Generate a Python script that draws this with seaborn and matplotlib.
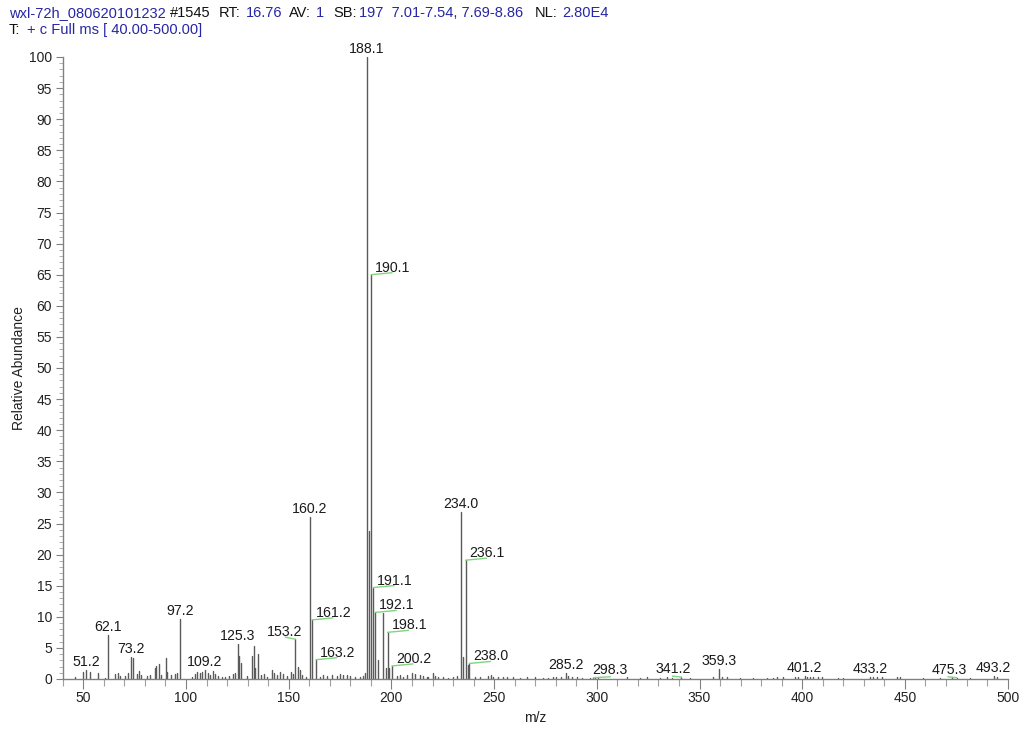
import numpy as np
import pandas as pd
import matplotlib
matplotlib.use("Agg")
import matplotlib.pyplot as plt
from matplotlib.ticker import MultipleLocator
import seaborn as sns

# ==========================
# Spectrum data (m/z, relative abundance)
# ==========================

peak_mz = [45.9, 50.0, 51.2, 53.2, 57.3, 60.5, 62.1, 65.5, 66.7, 68.0,
           70.3, 71.6, 73.2, 74.2, 75.9, 77.0, 78.2, 80.9, 82.4, 84.8,
           85.6, 86.8, 88.0, 90.2, 90.9, 92.5, 94.7, 95.8, 97.2,
           102.8, 104.4, 105.5, 106.8, 107.9, 109.2, 110.5, 111.7, 113.0, 114.2,
           115.8, 117.4, 119.0, 121.1, 122.7, 124.0, 125.3, 125.9, 126.7, 129.5,
           132.0, 133.0, 133.6, 134.8, 136.3, 137.9, 139.5, 141.7, 142.8, 144.1,
           145.8, 147.4, 149.0, 150.9, 152.1, 153.2, 154.7, 155.5, 156.6, 158.2,
           160.2, 161.2, 163.2, 165.2, 166.8, 168.5, 170.9, 173.3, 175.0, 176.6,
           178.2, 179.8, 182.3, 184.7, 186.0, 187.0, 188.1, 189.0, 190.1, 191.1,
           192.1, 193.3, 196.0, 197.2, 198.1, 199.0, 200.2, 202.6, 204.2, 205.8,
           207.4, 209.9, 211.5, 213.9, 215.5, 217.2, 218.0, 220.1, 221.2, 222.8,
           225.3, 227.7, 230.1, 232.1, 234.0, 235.0, 236.1, 237.1, 238.0, 240.7,
           243.1, 247.2, 248.3, 249.6, 252.0, 254.5, 256.1, 259.3, 262.6, 265.8,
           269.9, 273.9, 276.4, 278.8, 280.1, 282.8, 285.2, 286.1, 287.7, 290.2,
           292.6, 296.6, 298.3, 299.1, 300.7, 314.5, 321.0, 324.2, 330.7, 334.0,
           336.4, 341.2, 345.3, 356.7, 359.3, 360.8, 363.2, 369.7, 376.2, 382.7,
           385.9, 387.5, 390.8, 396.5, 398.1, 401.2, 402.2, 403.8, 405.4, 407.8,
           409.5, 417.6, 420.0, 433.2, 434.6, 436.2, 438.7, 446.0, 447.6, 459.0,
           467.1, 472.8, 475.3, 481.7, 493.2, 494.7]

peak_ab = [0.4, 1.1, 1.4, 1.2, 0.9, 0.2, 7.0, 0.8, 1.0, 0.5,
           0.5, 1.0, 3.5, 3.4, 0.8, 1.3, 0.6, 0.5, 0.6, 1.8,
           2.1, 2.4, 0.7, 3.3, 1.2, 0.6, 0.8, 1.0, 9.6,
           0.3, 0.8, 1.1, 0.9, 1.2, 1.5, 0.9, 0.6, 1.3, 0.8,
           0.5, 0.4, 0.3, 0.5, 0.8, 0.9, 5.7, 3.7, 2.5, 0.5,
           3.7, 5.3, 1.7, 4.0, 0.6, 0.8, 0.4, 1.5, 0.9, 0.6,
           1.2, 0.8, 0.5, 1.2, 0.8, 6.4, 2.0, 1.4, 0.6, 0.4,
           26.0, 9.5, 3.1, 0.4, 0.6, 0.5, 0.7, 0.5, 0.8, 0.6,
           0.7, 0.5, 0.4, 0.3, 0.5, 1.0, 100.0, 23.8, 65.0, 14.7,
           10.7, 3.0, 10.6, 1.8, 7.5, 1.8, 2.1, 0.5, 0.6, 0.4,
           0.7, 0.9, 0.8, 0.6, 0.5, 0.4, 0.3, 1.0, 0.5, 0.3,
           0.3, 0.2, 0.3, 0.5, 26.9, 3.5, 19.1, 2.2, 2.5, 0.3,
           0.4, 0.5, 0.6, 0.4, 0.3, 0.4, 0.3, 0.3, 0.2, 0.3,
           0.3, 0.2, 0.2, 0.3, 0.3, 0.4, 0.9, 0.5, 0.3, 0.3,
           0.2, 0.2, 0.2, 0.4, 0.3, 0.3, 0.2, 0.3, 0.2, 0.3,
           0.2, 0.3, 0.2, 0.4, 1.6, 0.4, 0.3, 0.2, 0.2, 0.2,
           0.2, 0.3, 0.3, 0.3, 0.4, 0.5, 0.4, 0.3, 0.3, 0.3,
           0.3, 0.2, 0.2, 0.4, 0.4, 0.3, 0.3, 0.3, 0.3, 0.2,
           0.2, 0.3, 0.2, 0.2, 0.5, 0.3]

# labels written straight above the peak
direct_labels = ["51.2", "62.1", "73.2", "97.2", "109.2", "125.3", "160.2",
                 "188.1", "234.0", "285.2", "359.3", "401.2", "433.2", "493.2"]

# labels drawn beside the peak with a green leader line
leader_labels = ["153.2", "161.2", "163.2", "190.1", "191.1", "192.1", "198.1",
                 "200.2", "236.1", "238.0", "298.3", "341.2", "475.3"]

# ==========================
# Placement (pixels): text dx, text dy, ha, line dx, line dy
# ==========================

default_leader = (4, 3, "left", 21, 2)
leader_place = {
    "153.2": (-11, 3, "center", -10, 2),
    "298.3": (17, 4, "center", 17, 1),
    "341.2": (-8, 4, "center", -9, 1),
    "475.3": (-8, 4, "center", -9, 1),
}

BLUE = "#2626a6"
GREEN = "#7fd67f"
STICK = "#5a5a5a"
AXIS = "#808080"

# ==========================
# Figure
# ==========================

sns.set_style("ticks")
plt.rcParams["font.family"] = ["Liberation Sans", "DejaVu Sans"]

W, H = 1024, 731
fig = plt.figure(figsize=(W / 100, H / 100), dpi=100)
ax = fig.add_axes([62.8 / W, 1 - 679 / H, (1007.6 - 62.8) / W, (679 - 57) / H])

sticks = pd.DataFrame({
    "mz": np.repeat(peak_mz, 2),
    "ab": np.column_stack([np.zeros(len(peak_ab)), peak_ab]).ravel(),
    "peak": np.repeat(np.arange(len(peak_mz)), 2),
})

sns.lineplot(data=sticks, x="mz", y="ab", units="peak", estimator=None,
             sort=False, color=STICK, lw=1.0, legend=False, ax=ax)

ax.set_xlim(40, 500)
ax.set_ylim(0, 100)

lookup = dict(zip([f"{m:.1f}" for m in peak_mz], peak_ab))

for lab in direct_labels:
    ax.annotate(lab, xy=(float(lab), lookup[lab]), xytext=(0, 4),
                textcoords="offset pixels", ha="center", va="baseline",
                fontsize=10.2, color="#1a1a1a", annotation_clip=False)

for lab in leader_labels:
    tdx, tdy, ha, ldx, ldy = leader_place.get(lab, default_leader)
    xy = (float(lab), lookup[lab])
    ax.annotate("", xy=xy, xytext=(ldx, ldy), textcoords="offset pixels",
                arrowprops=dict(arrowstyle="-", color=GREEN, lw=1.0,
                                shrinkA=0, shrinkB=0),
                annotation_clip=False)
    ax.annotate(lab, xy=xy, xytext=(tdx, tdy), textcoords="offset pixels",
                ha=ha, va="baseline", fontsize=10.2, color="#1a1a1a",
                annotation_clip=False)

# ==========================
# Axes styling
# ==========================

for side in ["top", "right"]:
    ax.spines[side].set_visible(False)
for side in ["left", "bottom"]:
    ax.spines[side].set_color(AXIS)
    ax.spines[side].set_linewidth(1.0)

ax.xaxis.set_major_locator(MultipleLocator(50))
ax.xaxis.set_minor_locator(MultipleLocator(10))
ax.yaxis.set_major_locator(MultipleLocator(5))
ax.yaxis.set_minor_locator(MultipleLocator(1))

ax.tick_params(axis="x", which="major", length=7.5, width=0.8, color=AXIS,
               pad=1.5, labelsize=10, labelcolor="#222222")
ax.tick_params(axis="x", which="minor", length=5, width=0.8, color="#a0a0a0")
ax.tick_params(axis="y", which="major", length=4.7, width=0.8, color=AXIS,
               pad=3, labelsize=10, labelcolor="#222222")
ax.tick_params(axis="y", which="minor", length=2.6, width=0.7, color="#b0b0b0")

ax.set_xlabel("m/z", fontsize=10, color="#222222", labelpad=4)
ax.set_ylabel("Relative Abundance", fontsize=10, color="#222222", labelpad=2)
ax.grid(False)

# ==========================
# Header
# ==========================

header = [
    (9, 17, "wxl-72h_080620101232", BLUE),
    (170, 17, "#1545", "#111111"),
    (219, 17, "RT:", "#111111"),
    (246, 17, "16.76", BLUE),
    (289, 17, "AV:", "#111111"),
    (316, 17, "1", BLUE),
    (333, 17, "SB:", "#111111"),
    (359, 17, "197  7.01-7.54, 7.69-8.86", BLUE),
    (535, 17, "NL:", "#111111"),
    (562, 17, "2.80E4", BLUE),
    (9, 34, "T:", "#111111"),
    (27, 34, "+ c Full ms [ 40.00-500.00]", BLUE),
]
for x, y, txt, col in header:
    fig.text(x / W, 1 - y / H, txt, fontsize=10.5, color=col,
             ha="left", va="baseline")

fig.savefig("out.png", dpi=100)
